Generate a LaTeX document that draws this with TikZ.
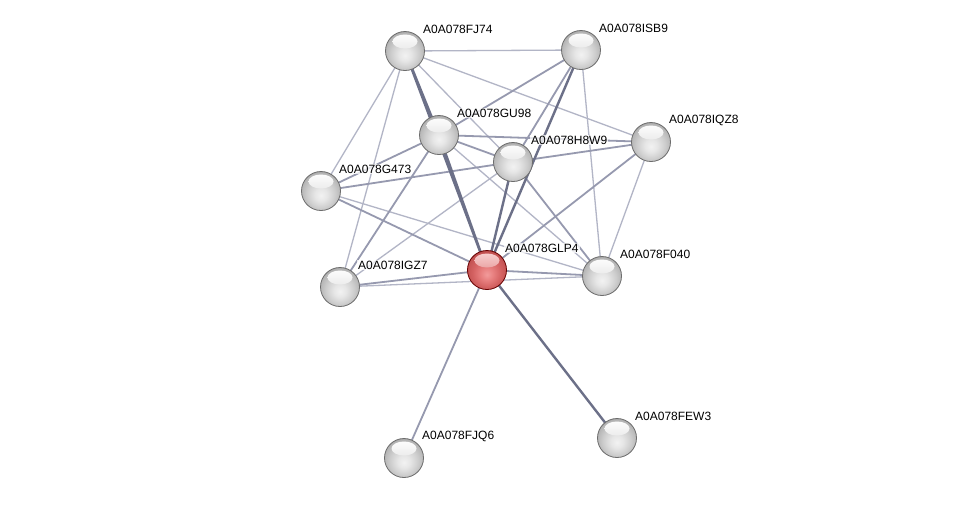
\documentclass[tikz,border=0pt]{standalone}
\usepackage{fontspec}
\setmainfont{Liberation Sans}
\definecolor{ew}{RGB}{178,181,198}
\definecolor{em}{RGB}{150,153,175}
\definecolor{es}{RGB}{108,112,136}
\definecolor{gA}{RGB}{242,242,242}
\definecolor{gB}{RGB}{230,230,230}
\definecolor{gC}{RGB}{205,205,205}
\definecolor{gD}{RGB}{180,180,180}
\definecolor{gE}{RGB}{145,145,145}
\definecolor{gHi}{RGB}{212,212,212}
\definecolor{rA}{RGB}{242,155,155}
\definecolor{rB}{RGB}{232,128,128}
\definecolor{rC}{RGB}{212,98,98}
\definecolor{rD}{RGB}{195,82,82}
\definecolor{rE}{RGB}{165,58,58}
\definecolor{rHi}{RGB}{215,105,105}
\definecolor{rTop}{RGB}{250,215,215}
\pgfdeclareradialshading{gball}{\pgfpoint{0bp}{-6bp}}{color(0bp)=(gA); color(8bp)=(gB); color(18bp)=(gC); color(26bp)=(gD); color(32bp)=(gE); color(50bp)=(gE)}
\pgfdeclareradialshading{rball}{\pgfpoint{0bp}{-6bp}}{color(0bp)=(rA); color(8bp)=(rB); color(18bp)=(rC); color(26bp)=(rD); color(32bp)=(rE); color(50bp)=(rE)}
\begin{document}
\begin{tikzpicture}[x=1pt,y=-1pt,
  prot/.style={circle,minimum size=39pt,inner sep=0pt,shading=gball,draw=gray!85!black,line width=0.8pt,
    path picture={\shade[top color=white,bottom color=gHi] ([yshift=9.5pt]path picture bounding box.center) ellipse [x radius=12.5pt,y radius=7pt];}},
  query/.style={circle,minimum size=39pt,inner sep=0pt,shading=rball,draw=red!40!black,line width=0.8pt,
    path picture={\shade[top color=rTop,bottom color=rHi] ([yshift=9.5pt]path picture bounding box.center) ellipse [x radius=12.5pt,y radius=7pt];}},
  lab/.style={anchor=west,font=\fontsize{12}{14}\selectfont,fill=white,fill opacity=0.75,text opacity=1,inner sep=1pt},
  ew/.style={draw=ew,line width=1.3pt},
  em/.style={draw=em,line width=1.8pt},
  es/.style={draw=es,line width=2.4pt}]
\useasboundingbox (0,0) rectangle (976,504);
\fill[white] (0,0) rectangle (976,504);
% coordinates
\coordinate (cFJ74) at (405,51);
\coordinate (cISB9) at (581,50);
\coordinate (cIQZ8) at (651,142);
\coordinate (cGU98) at (439,135);
\coordinate (cH8W9) at (513,162);
\coordinate (cG473) at (321,191);
\coordinate (cGLP4) at (487,270);
\coordinate (cF040) at (602,276);
\coordinate (cIGZ7) at (340,287);
\coordinate (cFJQ6) at (404,458);
\coordinate (cFEW3) at (617,438);
% edges
\draw[ew] (cFJ74) -- (cISB9);
\draw[ew] (cFJ74) -- (cIQZ8);
\draw[ew] (cFJ74) -- (cG473);
\draw[ew] (cFJ74) -- (cIGZ7);
\draw[ew] (cFJ74) -- (cH8W9);
\draw[ew] (cISB9) -- (cF040);
\draw[ew] (cIQZ8) -- (cF040);
\draw[ew] (cG473) -- (cF040);
\draw[ew] (cIGZ7) -- (cF040);
\draw[ew] (cIGZ7) -- (cH8W9);
\draw[ew] (cGU98) -- (cF040);
\draw[em] (cISB9) -- (cGU98);
\draw[em] (cISB9) -- (cH8W9);
\draw[em] (cGU98) -- (cIQZ8);
\draw[em] (cH8W9) -- (cIQZ8);
\draw[em] (cG473) -- (cH8W9);
\draw[em] (cGU98) -- (cG473);
\draw[em] (cGU98) -- (cIGZ7);
\draw[em] (cGU98) -- (cH8W9);
\draw[em] (cH8W9) -- (cF040);
\draw[em] (cIQZ8) -- (cGLP4);
\draw[em] (cG473) -- (cGLP4);
\draw[em] (cIGZ7) -- (cGLP4);
\draw[em] (cGLP4) -- (cF040);
\draw[em] (cGLP4) -- (cFJQ6);
\draw[es] (cFJ74) -- (cGU98);
\draw[es] (cFJ74) -- (cGLP4);
\draw[es] (cGU98) -- (cGLP4);
\draw[es] (cGLP4) -- (cFEW3);
\draw[es] (cISB9) -- (cGLP4);
\draw[es] (cH8W9) -- (cGLP4);
% nodes
\node[prot] (FJ74) at (cFJ74) {};
\node[prot] (ISB9) at (cISB9) {};
\node[prot] (IQZ8) at (cIQZ8) {};
\node[prot] (GU98) at (cGU98) {};
\node[prot] (H8W9) at (cH8W9) {};
\node[prot] (G473) at (cG473) {};
\node[query] (GLP4) at (cGLP4) {};
\node[prot] (F040) at (cF040) {};
\node[prot] (IGZ7) at (cIGZ7) {};
\node[prot] (FJQ6) at (cFJQ6) {};
\node[prot] (FEW3) at (cFEW3) {};
% labels
\node[lab] (lFJ74) at ([shift={(17,-22)}]cFJ74) {A0A078FJ74};
\node[lab] (lISB9) at ([shift={(17,-22)}]cISB9) {A0A078ISB9};
\node[lab] (lIQZ8) at ([shift={(17,-22)}]cIQZ8) {A0A078IQZ8};
\node[lab] (lGU98) at ([shift={(17,-22)}]cGU98) {A0A078GU98};
\node[lab] (lH8W9) at ([shift={(17,-22)}]cH8W9) {A0A078H8W9};
\node[lab] (lG473) at ([shift={(17,-22)}]cG473) {A0A078G473};
\node[lab] (lGLP4) at ([shift={(17,-22)}]cGLP4) {A0A078GLP4};
\node[lab] (lF040) at ([shift={(17,-22)}]cF040) {A0A078F040};
\node[lab] (lIGZ7) at ([shift={(17,-22)}]cIGZ7) {A0A078IGZ7};
\node[lab] (lFJQ6) at ([shift={(17,-22)}]cFJQ6) {A0A078FJQ6};
\node[lab] (lFEW3) at ([shift={(17,-22)}]cFEW3) {A0A078FEW3};
\end{tikzpicture}
\end{document}
